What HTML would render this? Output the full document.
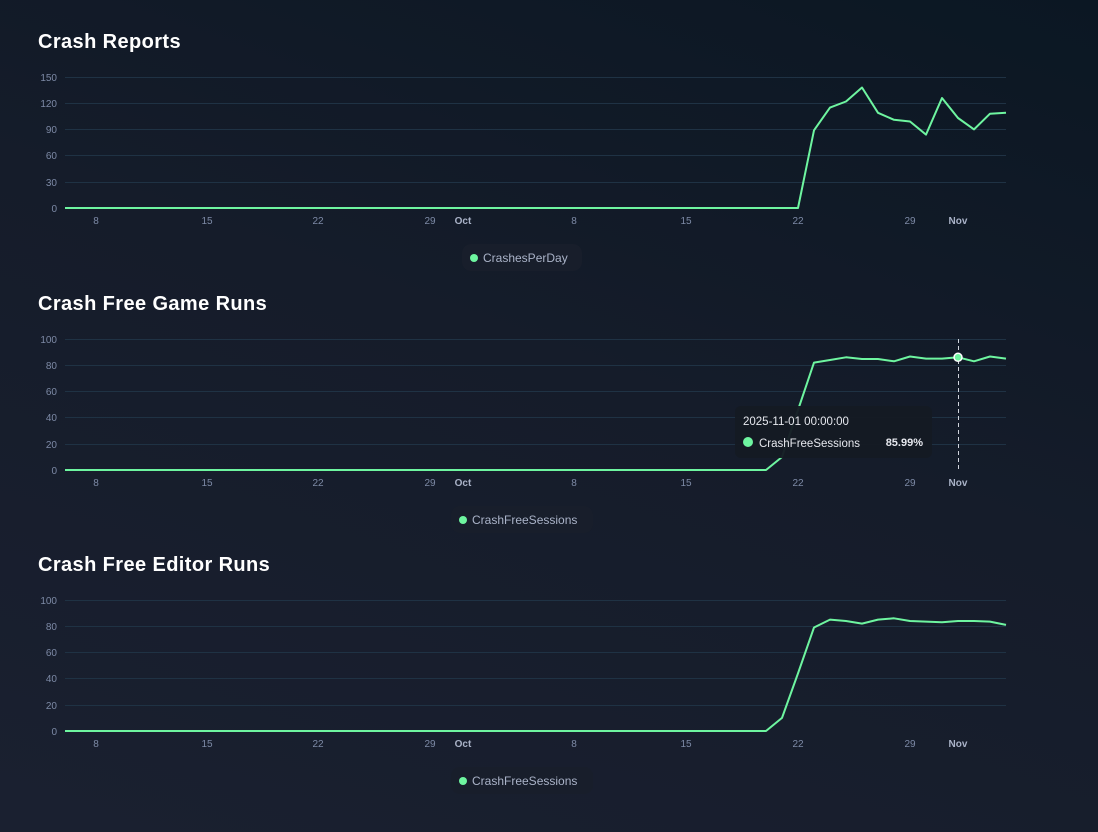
<!DOCTYPE html>
<html><head><meta charset="utf-8"><style>
html,body{margin:0;padding:0;width:1098px;height:832px;overflow:hidden}
body{background:linear-gradient(200deg,#0b1723 0%,#151c2a 45%,#1a2030 100%);font-family:"Liberation Sans",sans-serif}
</style></head><body>
<svg width="1098" height="832" xmlns="http://www.w3.org/2000/svg" font-family="Liberation Sans, sans-serif">
<defs>
<g id="xt" font-size="10" fill="#7d8aa6" text-anchor="middle">
<text x="96" y="0">8</text><text x="207" y="0">15</text><text x="318" y="0">22</text><text x="430" y="0">29</text>
<text x="463" y="0" font-weight="bold" fill="#aab3c8">Oct</text>
<text x="574" y="0">8</text><text x="686" y="0">15</text><text x="798" y="0">22</text><text x="910" y="0">29</text>
<text x="958" y="0" font-weight="bold" fill="#aab3c8">Nov</text>
</g>
</defs>
<!-- Chart 1 -->
<text x="38" y="48" font-size="20" font-weight="bold" fill="#fff" letter-spacing="0.4">Crash Reports</text>
<g stroke="#1f3244" stroke-width="1">
<line x1="65" x2="1006" y1="77.5" y2="77.5"/><line x1="65" x2="1006" y1="103.5" y2="103.5"/><line x1="65" x2="1006" y1="129.5" y2="129.5"/><line x1="65" x2="1006" y1="155.5" y2="155.5"/><line x1="65" x2="1006" y1="182.5" y2="182.5"/>
</g>
<g font-size="10" fill="#7d8aa6" text-anchor="end">
<text x="57" y="81">150</text><text x="57" y="107">120</text><text x="57" y="133">90</text><text x="57" y="159">60</text><text x="57" y="186">30</text><text x="57" y="212">0</text>
</g>
<use href="#xt" y="224"/>
<polyline fill="none" stroke="#6ef5a0" stroke-width="2" stroke-linejoin="round" points="65,208 798,208 814,130.3 830,107.6 846,101.5 862,87.5 878,112.8 894,119.8 910,121.5 926,134.6 942,98 958,118 974,129.4 990,113.7 1006,112.8"/>
<rect x="462" y="244" width="120" height="27" rx="9" fill="#181e2b"/>
<circle cx="474" cy="258" r="4" fill="#6ef5a0"/>
<text x="483" y="262" font-size="12" fill="#aab3c8">CrashesPerDay</text>

<!-- Chart 2 -->
<text x="38" y="310" font-size="20" font-weight="bold" fill="#fff" letter-spacing="0.4">Crash Free Game Runs</text>
<g stroke="#1f3244" stroke-width="1">
<line x1="65" x2="1006" y1="339.5" y2="339.5"/><line x1="65" x2="1006" y1="365.5" y2="365.5"/><line x1="65" x2="1006" y1="391.5" y2="391.5"/><line x1="65" x2="1006" y1="417.5" y2="417.5"/><line x1="65" x2="1006" y1="444.5" y2="444.5"/>
</g>
<g font-size="10" fill="#7d8aa6" text-anchor="end">
<text x="57" y="343">100</text><text x="57" y="369">80</text><text x="57" y="395">60</text><text x="57" y="421">40</text><text x="57" y="448">20</text><text x="57" y="474">0</text>
</g>
<use href="#xt" y="486"/>
<line x1="958.5" x2="958.5" y1="339" y2="470" stroke="#d0d4dc" stroke-dasharray="4,3" stroke-width="1"/>
<polyline fill="none" stroke="#6ef5a0" stroke-width="2" stroke-linejoin="round" points="65,470 766,470 782,457 798,410 814,362.6 830,360 846,357.3 862,359 878,359 894,361.3 910,356.5 926,358.6 942,358.6 958,357.3 974,361.3 990,356.5 1006,358.6"/>
<circle cx="958" cy="357.3" r="4" fill="#6ef5a0" stroke="#fff" stroke-width="1.5"/>
<rect x="735" y="406" width="197" height="52" rx="6" fill="#151a23" opacity="0.96"/>
<text x="743" y="425" font-size="11.5" fill="#e6e8ee">2025-11-01 00:00:00</text>
<circle cx="748" cy="442" r="5" fill="#6ef5a0"/>
<text x="759" y="447" font-size="11.5" fill="#e6e8ee">CrashFreeSessions</text>
<text x="923" y="446" font-size="11" font-weight="bold" fill="#e6e8ee" text-anchor="end">85.99%</text>
<rect x="451" y="506" width="142" height="27" rx="9" fill="#181e2b"/>
<circle cx="463" cy="520" r="4" fill="#6ef5a0"/>
<text x="472" y="524" font-size="12" fill="#aab3c8">CrashFreeSessions</text>

<!-- Chart 3 -->
<text x="38" y="571" font-size="20" font-weight="bold" fill="#fff" letter-spacing="0.4">Crash Free Editor Runs</text>
<g stroke="#1f3244" stroke-width="1">
<line x1="65" x2="1006" y1="600.5" y2="600.5"/><line x1="65" x2="1006" y1="626.5" y2="626.5"/><line x1="65" x2="1006" y1="652.5" y2="652.5"/><line x1="65" x2="1006" y1="678.5" y2="678.5"/><line x1="65" x2="1006" y1="705.5" y2="705.5"/>
</g>
<g font-size="10" fill="#7d8aa6" text-anchor="end">
<text x="57" y="604">100</text><text x="57" y="630">80</text><text x="57" y="656">60</text><text x="57" y="682">40</text><text x="57" y="709">20</text><text x="57" y="735">0</text>
</g>
<use href="#xt" y="747"/>
<polyline fill="none" stroke="#6ef5a0" stroke-width="2" stroke-linejoin="round" points="65,731 766,731 782,717.9 798,673.4 814,627.5 830,619.6 846,621 862,623.6 878,619.6 894,618.3 910,621 926,621.6 942,622.2 958,621 974,621 990,621.6 1006,624.9"/>
<rect x="451" y="767" width="142" height="27" rx="9" fill="#181e2b"/>
<circle cx="463" cy="781" r="4" fill="#6ef5a0"/>
<text x="472" y="785" font-size="12" fill="#aab3c8">CrashFreeSessions</text>
</svg>
</body></html>
